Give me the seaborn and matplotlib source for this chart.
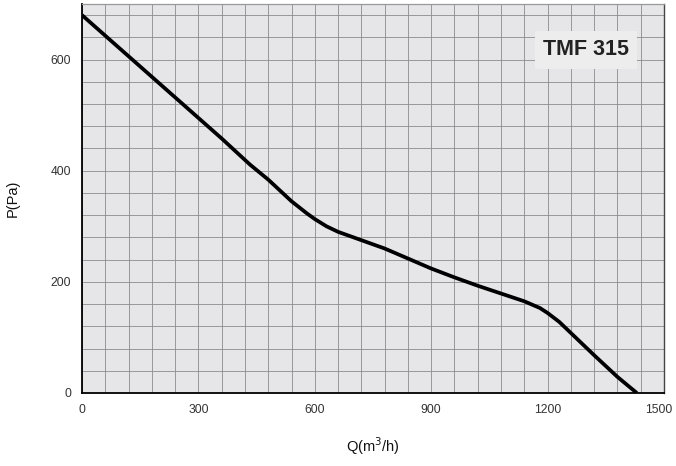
import pandas as pd
import matplotlib
matplotlib.use('Agg')
import matplotlib.pyplot as plt
from matplotlib.ticker import MultipleLocator
import seaborn as sns

# curve
flow = [0, 120, 240, 360, 433, 480, 540, 580, 600, 630, 660, 720, 780, 840, 900,
        960, 1020, 1080, 1140, 1180, 1200, 1230, 1260, 1320, 1380, 1430]
pressure = [680, 606, 532, 458, 411, 384, 345, 323, 313, 300, 290, 275, 260, 242, 224,
            208, 193, 179, 165, 153, 144, 128, 108, 68, 29, 0]
x_ticks = [0, 300, 600, 900, 1200, 1500]
y_ticks = [0, 200, 400, 600]
model = 'TMF 315'

df = pd.DataFrame({'Q': flow, 'P': pressure})

sns.set_style('white')
plt.rcParams['font.family'] = ['Liberation Sans', 'DejaVu Sans']

fig = plt.figure(figsize=(6.76, 4.66), dpi=100)
ax = fig.add_axes([0.1213, 0.1567, 0.8609, 0.8347])
ax.set_facecolor('#e6e6e8')

sns.lineplot(data=df, x='Q', y='P', ax=ax, color='black', linewidth=2.7, sort=False,
             solid_joinstyle='round', solid_capstyle='butt')

ax.set_xlim(0, 1500)
ax.set_ylim(0, 700)
# last x label is drawn separately so it stays inside the canvas
ax.set_xticks(x_ticks, labels=[str(v) for v in x_ticks[:-1]] + [''])
ax.set_yticks(y_ticks, labels=[str(v) for v in y_ticks])
ax.xaxis.set_minor_locator(MultipleLocator(60))
ax.yaxis.set_minor_locator(MultipleLocator(40))
ax.grid(which='both', color='#8c8c8c', linewidth=0.6)
ax.set_axisbelow(True)

ax.tick_params(which='major', length=4, width=0.8, color='#999999',
               labelsize=8.7, labelcolor='#333333', pad=4)
ax.tick_params(which='minor', length=0)
ax.annotate(str(x_ticks[-1]), xy=(x_ticks[-1], 0), xycoords='data',
            xytext=(-3.5, -8), textcoords='offset points', ha='center', va='top',
            fontsize=8.7, color='#333333', annotation_clip=False)

for s in ['left', 'bottom']:
    ax.spines[s].set_color('black')
    ax.spines[s].set_linewidth(1.3)
ax.spines['top'].set_color('#999999')
ax.spines['top'].set_linewidth(0.9)
ax.spines['right'].set_color('#444444')
ax.spines['right'].set_linewidth(1.0)

ax.set_xlabel('Q(m$^3$/h)', fontsize=10.5, color='#111111', labelpad=14)
ax.set_ylabel('P(Pa)', fontsize=10.5, color='#111111', labelpad=22)

ax.text(0.866, 0.882, model, transform=ax.transAxes, ha='center', va='center',
        fontsize=15.5, fontweight='bold', color='#222222',
        bbox=dict(facecolor='#ededed', edgecolor='none', pad=6))

fig.savefig('out.png', dpi=100)
